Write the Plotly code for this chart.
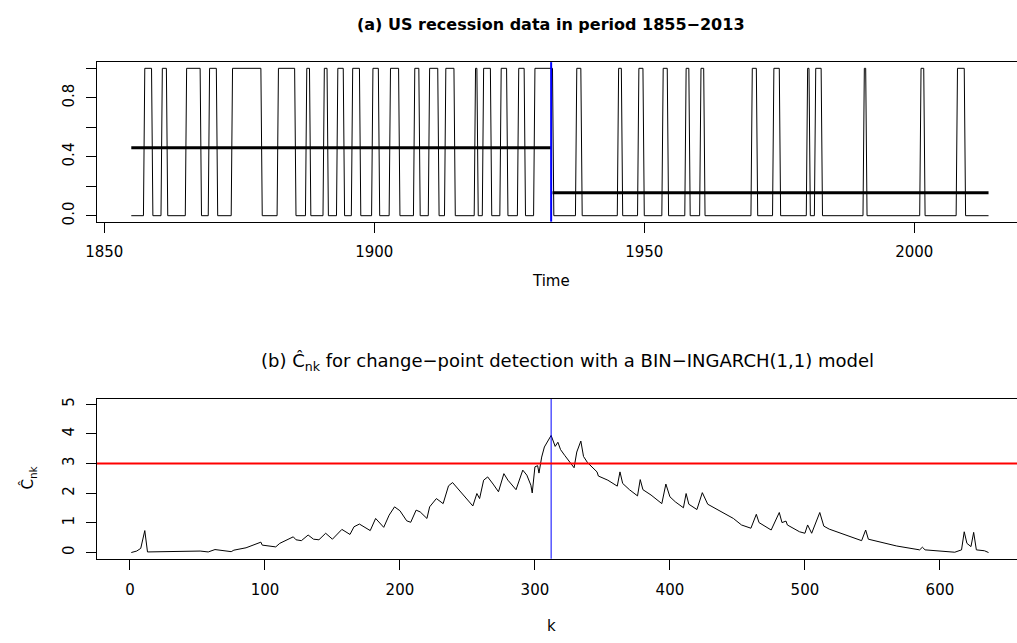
import plotly.graph_objects as go

# ---------------------------------------------------------------
# (a) US recession indicator, quarterly 1855Q1 .. 2013Q4
# first and last quarter (decimal year) of each recession spell
rec_first = [1857.5, 1860.75, 1865.25, 1869.5, 1873.75, 1882.25, 1887.5, 1890.75,
             1893.25, 1896.0, 1899.75, 1903.0, 1907.5, 1910.25, 1913.25, 1918.75,
             1920.25, 1923.5, 1926.75, 1929.75, 1937.5, 1945.25, 1949.0, 1953.5,
             1957.75, 1960.5, 1970.0, 1974.0, 1980.25, 1981.75, 1990.75, 2001.25,
             2008.0]
rec_last = [1858.75, 1861.5, 1867.75, 1870.75, 1879.0, 1885.25, 1888.0, 1891.25,
            1894.25, 1897.25, 1900.75, 1904.5, 1908.25, 1911.75, 1914.75, 1919.0,
            1921.5, 1924.5, 1927.75, 1933.0, 1938.25, 1945.75, 1949.75, 1954.25,
            1958.25, 1961.0, 1970.75, 1975.0, 1980.5, 1982.75, 1991.0, 2001.75,
            2009.25]
start_year = 1855
n_quarters = 636

# segment means either side of the change point
seg_x = [[1855.0, 1932.75], [1933.0, 2013.75]]
seg_mean = [0.461, 0.156]
cp_time = 1932.75
cp_k = 312

# ---------------------------------------------------------------
# (b) C_nk statistic (vertices)
k_vals = [1, 5, 8, 11, 13, 24, 40, 52, 58, 63, 75, 77, 86, 97, 98, 108, 111,
          121, 123, 127, 132, 136, 140, 145, 150, 157, 163, 166, 170, 178, 182,
          188, 192, 196, 200, 205, 208, 212, 215, 220, 222, 227, 232, 236, 239,
          247, 254, 257, 259, 262, 265, 269, 273, 277, 280, 286, 291, 294, 297,
          298, 300, 302, 303, 305, 307, 312, 315, 317, 319, 322, 325, 329, 331,
          334, 336, 339, 346, 347, 354, 361, 363, 365, 370, 376, 378, 380, 386,
          394, 397, 400, 404, 410, 412, 414, 420, 424, 428, 437, 447, 453, 460,
          464, 466, 475, 481, 483, 486, 487, 496, 500, 502, 505, 508, 511, 514,
          518, 542, 545, 547, 568, 585, 587, 589, 611, 616, 618, 620, 623, 625,
          627, 633, 636]
c_vals = [0.00, 0.05, 0.14, 0.74, 0.02, 0.03, 0.02, 0.05, 0.02, 0.10, 0.03,
          0.08, 0.16, 0.35, 0.25, 0.19, 0.31, 0.53, 0.43, 0.40, 0.59, 0.45,
          0.43, 0.65, 0.45, 0.78, 0.61, 0.87, 0.96, 0.74, 1.15, 0.85, 1.26,
          1.54, 1.41, 1.07, 1.02, 1.43, 1.37, 1.15, 1.54, 1.82, 1.65, 2.25,
          2.36, 1.94, 1.57, 1.99, 1.82, 2.44, 2.55, 2.31, 2.05, 2.66, 2.44,
          2.12, 2.78, 2.61, 2.27, 2.01, 2.89, 2.93, 2.68, 3.22, 3.56, 3.95,
          3.58, 3.72, 3.47, 3.28, 3.10, 2.86, 3.39, 3.76, 3.24, 3.03, 2.72,
          2.58, 2.44, 2.24, 2.72, 2.33, 2.12, 1.91, 2.46, 2.12, 1.94, 1.65,
          2.31, 1.88, 1.71, 1.51, 1.99, 1.63, 1.45, 2.02, 1.63, 1.41, 1.15,
          0.93, 0.82, 1.29, 1.01, 0.76, 1.35, 1.01, 1.06, 0.93, 0.70, 0.65,
          0.93, 0.65, 0.99, 1.35, 0.89, 0.79, 0.40, 0.76, 0.45, 0.22, 0.09,
          0.18, 0.09, 0.01, 0.09, 0.70, 0.31, 0.20, 0.68, 0.09, 0.06, 0.00]
threshold = 3

# ---------------------------------------------------------------
times = [start_year + i / 4 for i in range(n_quarters)]
recession = [0] * n_quarters
for a, b in zip(rec_first, rec_last):
    for i, t in enumerate(times):
        if a <= t <= b:
            recession[i] = 1

FONT = "DejaVu Sans"
W, H, ML = 1017, 643, 97


def px_x(p):
    return (p - ML) / (W - ML)


def px_y(p):
    return 1 - p / H


fig = go.Figure()

fig.add_trace(go.Scatter(x=times, y=recession, mode="lines",
                         line=dict(color="black", width=1),
                         xaxis="x", yaxis="y"))
for xs, m in zip(seg_x, seg_mean):
    fig.add_trace(go.Scatter(x=xs, y=[m, m], mode="lines",
                             line=dict(color="black", width=3),
                             xaxis="x", yaxis="y"))

fig.add_trace(go.Scatter(x=k_vals, y=c_vals, mode="lines",
                         line=dict(color="black", width=1),
                         xaxis="x2", yaxis="y2"))

# change point / threshold lines
fig.add_shape(type="line", xref="x", yref="y domain", x0=cp_time, x1=cp_time,
              y0=0, y1=1, line=dict(color="blue", width=2))
fig.add_shape(type="line", xref="x2", yref="y2 domain", x0=cp_k, x1=cp_k,
              y0=0, y1=1, line=dict(color="blue", width=1))
fig.add_shape(type="line", xref="x2 domain", yref="y2", x0=0, x1=1,
              y0=threshold, y1=threshold, line=dict(color="red", width=2))

axis_style = dict(showline=True, linecolor="black", linewidth=1,
                  ticks="outside", ticklen=10, tickcolor="black", tickwidth=1,
                  showgrid=False, zeroline=False,
                  tickfont=dict(family=FONT, size=15, color="black"))

fig.update_layout(
    width=W, height=H,
    margin=dict(l=ML, r=0, t=0, b=0),
    plot_bgcolor="white", paper_bgcolor="white",
    showlegend=False,
    xaxis=dict(domain=[0, 1], anchor="y", range=[1848.65, 2019.02],
               tickvals=[1850, 1900, 1950, 2000], mirror=True,
               ticklabelstandoff=6, **axis_style),
    yaxis=dict(domain=[px_y(221.7), px_y(60.7)], anchor="x",
               range=[-0.0403, 1.042],
               tickvals=[0, 0.2, 0.4, 0.6, 0.8, 1.0],
               ticktext=["0.0", "", "0.4", "", "0.8", ""],
               tickangle=-90, ticklabelstandoff=6, **axis_style),
    xaxis2=dict(domain=[0, 1], anchor="y2", range=[-24.4, 657.1],
                tickvals=[0, 100, 200, 300, 400, 500, 600], mirror=True,
                ticklabelstandoff=7, **axis_style),
    yaxis2=dict(domain=[px_y(562), px_y(400.7)], anchor="x2",
                range=[-0.21, 5.18], tickvals=[0, 1, 2, 3, 4, 5],
                tickangle=-90, ticklabelstandoff=6, **axis_style),
)

texts = [
    ("<b>(a) US recession data in period 1855−2013</b>", 551, 23, 16, 0),
    ("(b) Ĉ<sub>nk</sub> for change−point detection with a BIN−INGARCH(1,1) model",
     567, 363, 18, 0),
    ("Time", 551, 282, 15, 0),
    ("k", 551, 630, 15, 0),
    ("Ĉ<sub>nk</sub>", 28, 480, 15, -90),
]
for txt, x, y, size, ang in texts:
    fig.add_annotation(text=txt, xref="paper", yref="paper",
                       x=px_x(x), y=px_y(y), xanchor="center", yanchor="middle",
                       showarrow=False, textangle=ang,
                       font=dict(family=FONT, size=size, color="black"))

# drop the default page margin so the figure sits at the window origin
fig.write_html("out.html", config={"displayModeBar": False},
               post_script="document.body.style.margin = '0px';")
